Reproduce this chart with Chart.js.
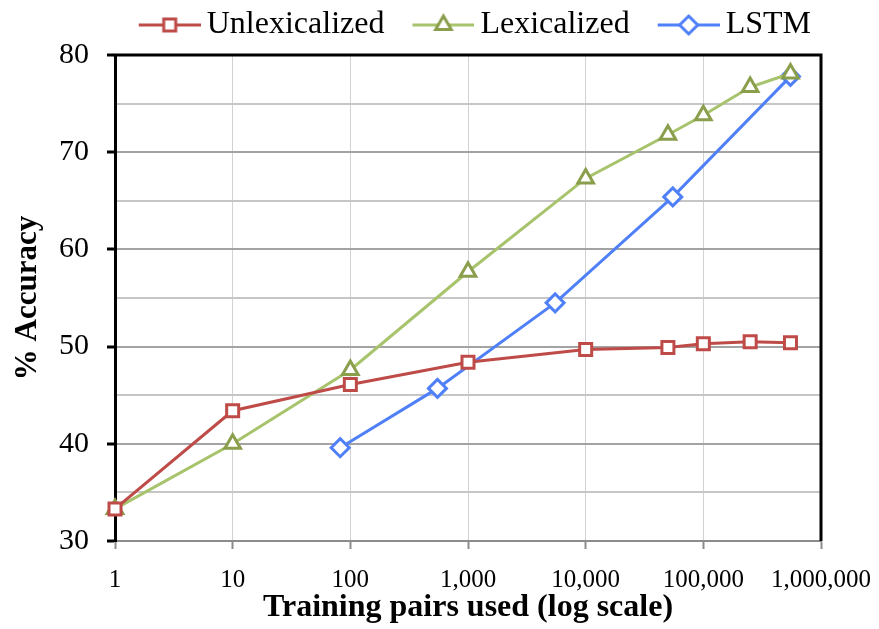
<!DOCTYPE html>
<html><head><meta charset="utf-8">
<script src="https://cdn.jsdelivr.net/npm/chart.js@4.4.1/dist/chart.umd.min.js"></script>
<style>html,body{margin:0;padding:0;background:#fff}</style>
</head><body>
<canvas id="c" width="879" height="629"></canvas>
<script>
// ---- data ----
const xPairs = [1, 10, 100, 1000, 10000, 50000, 100000, 250000, 550152];
const unlexicalized = [33.3, 43.4, 46.1, 48.4, 49.7, 49.9, 50.3, 50.5, 50.4];
const lexicalized = [33.3, 40.0, 47.6, 57.7, 67.3, 71.8, 73.8, 76.7, 78.1];
const lstmPairs = [82, 550, 5500, 55000, 550152];
const lstm = [39.6, 45.7, 54.5, 65.4, 77.8];
const xTickValues = [1, 10, 100, 1000, 10000, 100000, 1000000];
const xTickLabels = ['1', '10', '100', '1,000', '10,000', '100,000', '1,000,000'];
const yTickValues = [30, 40, 50, 60, 70, 80];
const seriesNames = ['Unlexicalized', 'Lexicalized', 'LSTM'];

const FONT = '"Liberation Serif", "Times New Roman", serif';
const RED = '#BE4B48', GREEN_LINE = '#A7C36B', GREEN_MARK = '#8A9E4C', BLUE = '#5080F8';

function pts(xs, ys) { return xs.map((x, i) => ({ x: x, y: ys[i] })); }

function makeIcon(lineColor, markColor, style) {
  const W = 90, H = 30, L = 62;
  const c = document.createElement('canvas'); c.width = W; c.height = H;
  const g = c.getContext('2d');
  g.lineWidth = 3; g.strokeStyle = lineColor;
  g.beginPath(); g.moveTo(W - L, H / 2); g.lineTo(W, H / 2); g.stroke();
  const cx = W - L / 2, cy = H / 2;
  g.fillStyle = '#fff'; g.strokeStyle = markColor; g.lineWidth = 3;
  g.beginPath();
  if (style === 'rect') { g.rect(cx - 6, cy - 6, 12, 12); }
  else if (style === 'triangle') { g.moveTo(cx, cy - 9); g.lineTo(cx + 7.8, cy + 4.5); g.lineTo(cx - 7.8, cy + 4.5); g.closePath(); }
  else { g.moveTo(cx, cy - 9); g.lineTo(cx + 9, cy); g.lineTo(cx, cy + 9); g.lineTo(cx - 9, cy); g.closePath(); }
  g.fill(); g.stroke();
  return c;
}
const icons = [makeIcon(RED, RED, 'rect'), makeIcon(GREEN_LINE, GREEN_MARK, 'triangle'), makeIcon(BLUE, BLUE, 'rectRot')];

const frame = {
  id: 'frame',
  afterLayout(chart) {
    if (chart.legend) { chart.legend.top -= 4; chart.legend.bottom -= 4; }
  },
  beforeDatasetsDraw(chart) {
    const { ctx, chartArea: a } = chart;
    ctx.save();
    ctx.strokeStyle = '#000'; ctx.lineWidth = 3;
    ctx.beginPath();
    ctx.moveTo(a.left - 1.5, a.top);
    ctx.lineTo(a.right, a.top);
    ctx.lineTo(a.right, a.bottom);
    ctx.stroke();
    ctx.restore();
  }
};

new Chart(document.getElementById('c'), {
  type: 'line',
  data: {
    datasets: [
      { label: seriesNames[0], data: pts(xPairs, unlexicalized), borderColor: RED, pointBorderColor: RED,
        pointStyle: 'rect', pointRadius: 8.5 },
      { label: seriesNames[1], data: pts(xPairs, lexicalized), borderColor: GREEN_LINE, pointBorderColor: GREEN_MARK,
        pointStyle: 'triangle', pointRadius: 9 },
      { label: seriesNames[2], data: pts(lstmPairs, lstm), borderColor: BLUE, pointBorderColor: BLUE,
        pointStyle: 'rectRot', pointRadius: 9 }
    ].map(d => Object.assign({ borderWidth: 3, pointBorderWidth: 3, pointBackgroundColor: '#fff',
      pointHoverRadius: d.pointRadius, tension: 0, clip: false, fill: false }, d))
  },
  options: {
    responsive: false,
    animation: false,
    events: [],
    layout: { padding: { top: 3, right: 58, left: 0, bottom: 0 } },
    plugins: {
      tooltip: { enabled: false },
      legend: {
        display: true, position: 'top', align: 'end',
        labels: {
          usePointStyle: true, pointStyleWidth: 70, boxHeight: 32, padding: 10,
          color: '#000', font: { family: FONT, size: 32 },
          generateLabels: (chart) => chart.data.datasets.map((ds, i) => ({
            text: ds.label, pointStyle: icons[i], fillStyle: '#fff', strokeStyle: '#fff',
            lineWidth: 0, datasetIndex: i, hidden: false, fontColor: '#000'
          }))
        }
      }
    },
    scales: {
      x: {
        type: 'logarithmic', min: 1, max: 1000000,
        afterBuildTicks: (s) => { s.ticks = xTickValues.map(v => ({ value: v })); },
        afterFit: (s) => { s.height = 88; s.paddingLeft = 0; s.paddingRight = 0; },
        ticks: {
          autoSkip: false, maxRotation: 0, padding: 16, color: '#000',
          font: { family: FONT, size: 25 },
          callback: (v) => { const i = xTickValues.indexOf(v); return i >= 0 ? xTickLabels[i] : ''; }
        },
        grid: { color: '#d2d2d2', lineWidth: 1, tickColor: '#8c8c8c', tickLength: 8, tickWidth: 2 },
        border: { color: '#8c8c8c', width: 2 },
        title: { display: true, text: 'Training pairs used (log scale)', color: '#000',
          font: { family: FONT, size: 32, weight: 'bold' }, padding: { top: 0, bottom: 2 } }
      },
      y: {
        min: 30, max: 80,
        afterFit: (s) => { s.width = 115; },
        ticks: {
          stepSize: 5, padding: 18, color: '#000', font: { family: FONT, size: 30 },
          callback: (v) => yTickValues.includes(v) ? String(v) : ''
        },
        grid: {
          color: (c) => (c.tick && c.tick.value % 10 === 0) ? '#a3a3a3' : '#c6c6c6',
          lineWidth: 2,
          tickColor: (c) => (c.tick && c.tick.value % 10 === 0) ? '#000' : 'rgba(0,0,0,0)',
          tickLength: 8, tickWidth: 3
        },
        border: { color: '#000', width: 3 },
        title: { display: true, text: '% Accuracy', color: '#000',
          font: { family: FONT, size: 31, weight: 'bold' }, padding: { top: 9, bottom: 0 } }
      }
    }
  },
  plugins: [frame]
});
</script>
</body></html>
